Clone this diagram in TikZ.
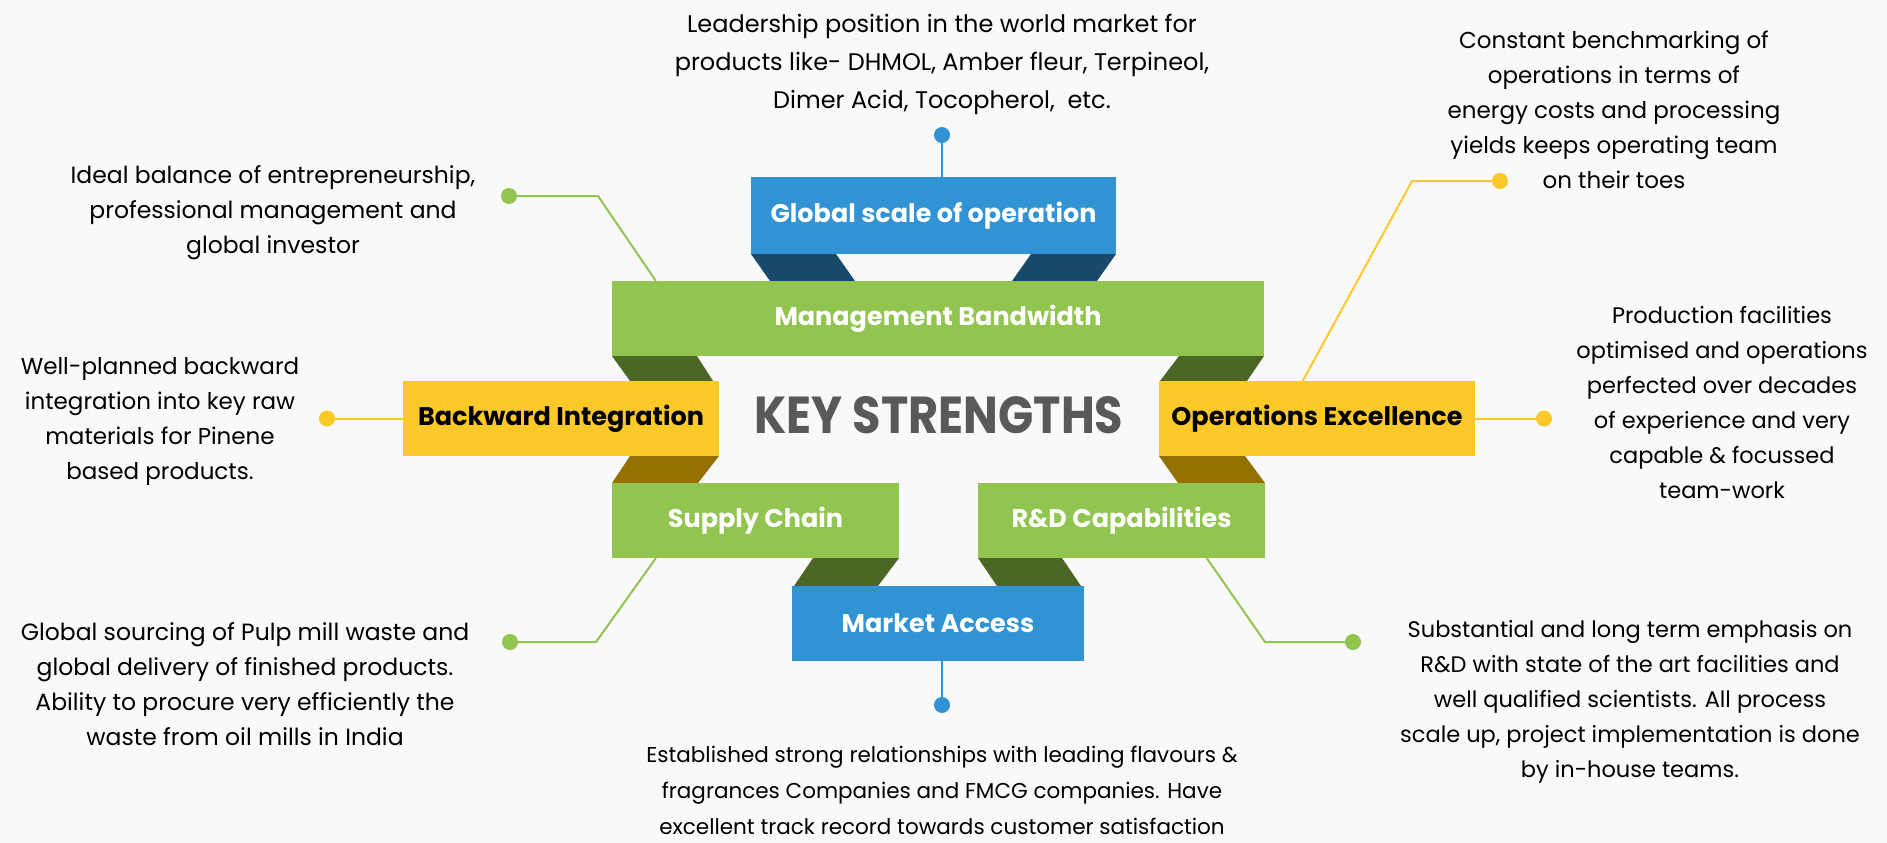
\documentclass[tikz,border=0pt]{standalone}
\usepackage{fontspec}
\setmainfont{Poppins}
\usepackage{tikz}
\usepackage{color}
\usepackage{graphicx}

\definecolor{bgcol}{HTML}{F9F9F9}
\definecolor{boxblue}{HTML}{3193D3}
\definecolor{foldblue}{HTML}{184A6B}
\definecolor{boxgreen}{HTML}{92C550}
\definecolor{foldgreen}{HTML}{4A6824}
\definecolor{boxyellow}{HTML}{FDC92A}
\definecolor{foldbrown}{HTML}{937000}
\definecolor{keygray}{HTML}{595959}

\tikzset{
  box/.style={inner sep=0pt, minimum height=75pt, font=\fontsize{25.5}{25.5}\selectfont\bfseries},
  bluebox/.style={box, fill=boxblue, text=white},
  greenbox/.style={box, fill=boxgreen, text=white},
  yellowbox/.style={box, fill=boxyellow, text=black},
  info/.style={align=center, inner sep=0pt, font=\fontsize{#1}{35}\selectfont},
  dot/.style={circle, inner sep=0pt, minimum size=16pt},
  link/.style={line width=2pt}
}

\begin{document}
\begin{tikzpicture}[x=1pt, y=-1pt]
\useasboundingbox (0,0) rectangle (1887,843);
\fill[bgcol] (0,0) rectangle (1887,843);

% folds of the ribbon
\fill[foldblue] (751,254) -- (836,254) -- (855,281) -- (770,281) -- cycle;
\fill[foldblue] (1031,254) -- (1116,254) -- (1097,281) -- (1012,281) -- cycle;
\fill[foldgreen] (612,356) -- (697,356) -- (713,381) -- (630,381) -- cycle;
\fill[foldgreen] (1179,356) -- (1264,356) -- (1247,381) -- (1160,381) -- cycle;
\fill[foldbrown] (630,456) -- (719,456) -- (698,483) -- (612,483) -- cycle;
\fill[foldbrown] (1159,456) -- (1245,456) -- (1265,483) -- (1178,483) -- cycle;
\fill[foldgreen] (813,558) -- (899,558) -- (878,586) -- (794,586) -- cycle;
\fill[foldgreen] (978,558) -- (1062,558) -- (1081,586) -- (997,586) -- cycle;

% boxes
\node[bluebox, minimum width=365pt, minimum height=77pt] (glob) at (933.5,215.5) {Global scale of operation};
\node[greenbox, minimum width=652pt] (mgmt) at (938,318.5) {Management Bandwidth};
\node[yellowbox, minimum width=316pt] (back) at (561,418.5) {Backward Integration};
\node[yellowbox, minimum width=316pt] (oper) at (1317,418.5) {Operations Excellence};
\node[greenbox, minimum width=287pt] (supp) at (755.5,520.5) {Supply Chain};
\node[greenbox, minimum width=287pt] (rnd) at (1121.5,520.5) {R\&D Capabilities};
\node[bluebox, minimum width=292pt] (mkt) at (938,623.5) {Market Access};

\node[text=keygray, font=\fontsize{52}{52}\selectfont\bfseries] (key) at (939,415) {\scalebox{0.89}[1]{KEY STRENGTHS}};

% dots and connectors
\node[dot, fill=boxblue] (tdot) at (942,135) {};
\node[dot, fill=boxblue] (bdot) at (942,705) {};
\node[dot, fill=boxgreen] (uldot) at (509,196) {};
\node[dot, fill=boxyellow] (urdot) at (1500,181) {};
\node[dot, fill=boxyellow] (ldot) at (327,418.5) {};
\node[dot, fill=boxyellow] (rdot) at (1544,418.5) {};
\node[dot, fill=boxgreen] (lldot) at (510,642) {};
\node[dot, fill=boxgreen] (lrdot) at (1353,642) {};

\draw[link, boxblue] (tdot) -- (tdot |- glob.north);
\draw[link, boxblue] (bdot |- mkt.south) -- (bdot);
\draw[link, boxgreen] (uldot) -- (598,196) -- ([xshift=44pt]mgmt.north west);
\draw[link, boxyellow] (urdot) -- (1412,181) -- ([xshift=144pt]oper.north west);
\draw[link, boxyellow] (ldot) -- (back.west);
\draw[link, boxyellow] (oper.east) -- (rdot);
\draw[link, boxgreen] ([xshift=44pt]supp.south west) -- (596,642) -- (lldot);
\draw[link, boxgreen] ([xshift=229pt]rnd.south west) -- (1265,642) -- (lrdot);

% texts
\node[info=24, font=\fontsize{24}{38}\selectfont] (ttext) at (942,64) {Leadership position in the world market for\\products like- DHMOL, Amber fleur, Terpineol,\\Dimer Acid, Tocopherol,\ \ etc.};
\node[info=23.5] (ultext) at (273,213) {Ideal balance of entrepreneurship,\\professional management and\\global investor};
\node[info=23] (urtext) at (1614,110) {Constant benchmarking of\\operations in terms of\\energy costs and processing\\yields keeps operating team\\on their toes};
\node[info=23] (ltext) at (160,421.5) {Well-planned backward\\integration into key raw\\materials for Pinene\\based products.};
\node[info=22.5] (rtext) at (1722,402.5) {Production facilities\\optimised and operations\\perfected over decades\\of experience and very\\capable \& focussed\\team-work};
\node[info=23.5] (lltext) at (245,684.5) {Global sourcing of Pulp mill waste and\\global delivery of finished products.\\Ability to procure very efficiently the\\waste from oil mills in India};
\node[info=22.5] (lrtext) at (1630,702) {Substantial and long term emphasis on\\R\&D with state of the art facilities and\\well qualified scientists. All process\\scale up, project implementation is done\\by in-house teams.};
\node[info=21.5, font=\fontsize{21.5}{36}\selectfont] (btext) at (942,790) {Established strong relationships with leading flavours \&\\fragrances Companies and FMCG companies. Have\\excellent track record towards customer satisfaction};

\end{tikzpicture}
\end{document}
